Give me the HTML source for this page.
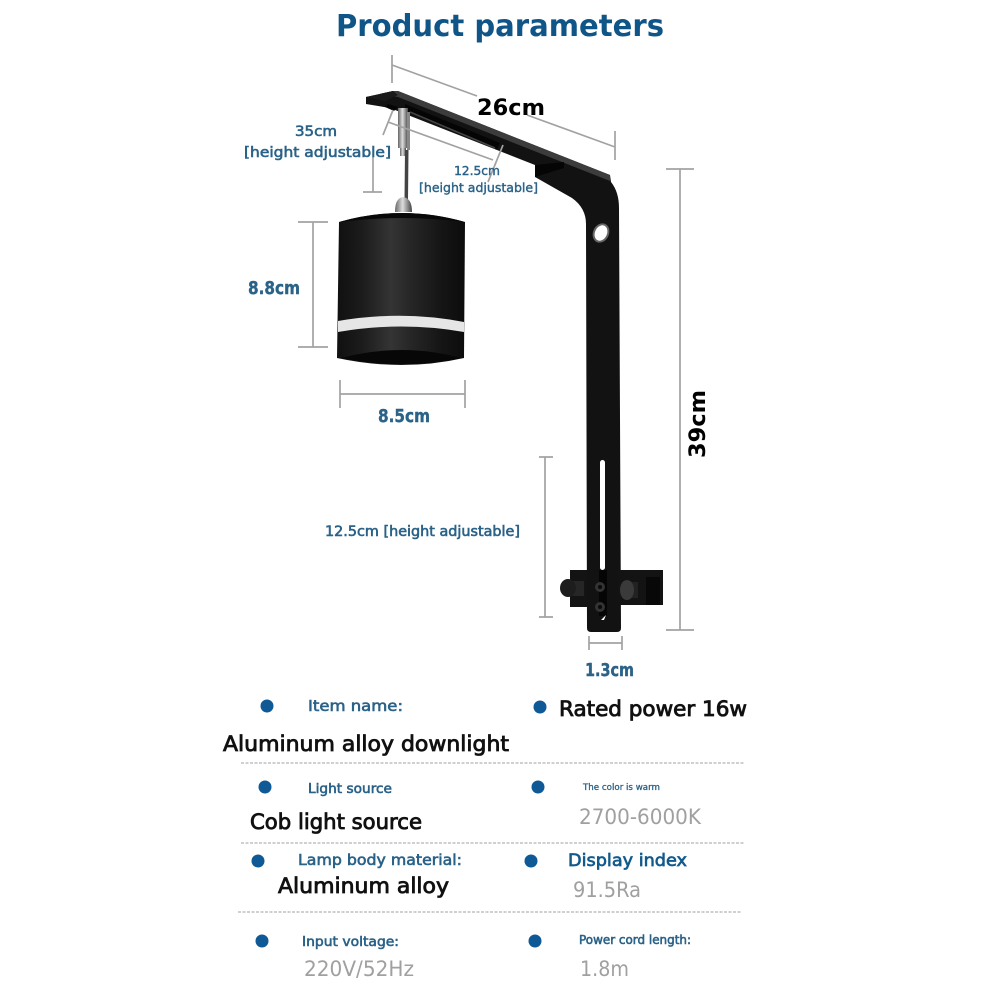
<!DOCTYPE html>
<html><head><meta charset="utf-8"><style>
html,body{margin:0;padding:0;background:#fff}
svg{display:block}
text{font-family:"DejaVu Sans","Liberation Sans",sans-serif}
.b{fill:#2a6288;font-weight:bold}
.s{fill:#2a6288;stroke:#2a6288;stroke-width:.6}
.h{fill:#125a8c;stroke:#125a8c;stroke-width:.7}
.k{fill:#111;stroke:#111;stroke-width:.85}
.g{fill:#a0a0a0}
.d{stroke:#a2a2a2;stroke-width:1.7;fill:none}
.r{stroke:#a0a0a0;stroke-width:1;stroke-dasharray:3 1.5;fill:none}
</style></head><body>
<svg width="987" height="987" viewBox="0 0 987 987" xmlns="http://www.w3.org/2000/svg">
<defs>
<linearGradient id="cyl" x1="0" x2="1" y1="0" y2="0">
<stop offset="0" stop-color="#101010"/><stop offset=".2" stop-color="#1c1c1c"/><stop offset=".42" stop-color="#343434"/><stop offset=".58" stop-color="#262626"/><stop offset=".8" stop-color="#161616"/><stop offset="1" stop-color="#0c0c0c"/>
</linearGradient>
<linearGradient id="met" x1="0" x2="1" y1="0" y2="0">
<stop offset="0" stop-color="#666"/><stop offset=".45" stop-color="#ddd"/><stop offset="1" stop-color="#444"/>
</linearGradient>
</defs>

<text x="336" y="36" font-size="30.5" style="fill:#0f5587;font-weight:bold" textLength="328" lengthAdjust="spacingAndGlyphs">Product parameters</text>

<!-- top dimension lines -->
<path class="d" d="M392 55V83M392 65L477 96M527 115L615 147M615 131V160"/>

<!-- bracket -->
<path d="M366 97L393 91H398L610 175L611 182Q619 192 619 208L621 628Q621 632 617 632H591Q587 632 587 628L586 224Q586 208 572 198L535 177V165L390 108L366 104Z" fill="#121212"/>
<path d="M398 91L610 175V181L398 97L380 94L393 91Z" fill="#3c3c3c"/>
<path d="M366 97L393 91L398 95L385 101Z" fill="#1a1a1a"/>
<path d="M535 165L564 162V168L535 177Z" fill="#050505"/>
<path d="M405 104L500 143L497 149L405 111Z" fill="#050505"/>
<path d="M410 112L495 148" stroke="#444" stroke-width="1.500"/>
<path d="M388 104L398 107L394 111L385 107Z" fill="#050505"/>
<ellipse cx="601" cy="233" rx="8" ry="10" transform="rotate(25 601 233)" fill="#666"/>
<ellipse cx="601" cy="233" rx="6" ry="8" transform="rotate(25 601 233)" fill="#fff"/>
<!-- bottom clamp -->
<rect x="600" y="460" width="5" height="110" rx="2.500" fill="#fff"/>
<path d="M570 570H587V607H570ZM618 570H663V605H618Z" fill="#131313"/>
<rect x="646" y="577" width="14" height="28" fill="#080808"/>
<rect x="599" y="570" width="8" height="46" fill="#050505"/>
<path d="M601 620L606 615L604 620Z" fill="#fff"/>
<circle cx="600" cy="587" r="5" fill="#333"/><circle cx="600" cy="607" r="5" fill="#333"/>
<circle cx="600" cy="587" r="2" fill="#0a0a0a"/><circle cx="600" cy="607" r="2" fill="#0a0a0a"/>
<rect x="568" y="581" width="16" height="15" fill="#262626"/>
<ellipse cx="568" cy="588" rx="8" ry="9" fill="#1d1d1d"/>
<rect x="622" y="582" width="16" height="16" fill="#222"/>
<ellipse cx="627" cy="590" rx="7" ry="10" fill="#3a3a3a"/>

<!-- hanger -->
<rect x="398" y="108" width="10" height="40" fill="url(#met)"/>
<rect x="400" y="148" width="6" height="8" fill="url(#met)"/>
<path d="M407 112H410V150H407Z" fill="#888"/>
<path d="M405 150H408.500L408 200H404.500Z" fill="#444"/>
<path d="M395 212Q395 198 403 197Q412 198 412 212Z" fill="url(#met)"/>

<!-- cylinder -->
<path d="M339 222Q402 204 465 222L464 358Q402 372 337 358Z" fill="url(#cyl)"/>
<path d="M339 222Q402 204 465 222Q402 214 339 222Z" fill="#080808"/>
<path d="M338 321Q402 310 464 322V332Q402 321 338 332Z" fill="#e6e6e6"/>
<path d="M341 358Q402 342 461 358Q402 371 341 358Z" fill="#070707"/>

<!-- dimension lines -->
<path class="d" d="M393 110L383 135M388 122L493 160M503 145L488 182"/>
<path class="d" d="M373 157V192M363 192H382"/>
<path class="d" d="M298 222H328M313 222V347M298 347H328"/>
<path class="d" d="M340 380V408M340 394H465M465 380V408"/>
<path class="d" d="M666 169H694M680 169V630M666 630H694"/>
<path class="d" d="M539 457H553M545 457V617M539 617H553"/>
<path class="d" d="M589 636V650M589 643H622M622 636V650"/>

<!-- dimension labels -->
<text x="477" y="115" font-size="22" fill="#000" font-weight="bold" textLength="68" lengthAdjust="spacingAndGlyphs">26cm</text>
<text x="295" y="136" font-size="14" class="s" textLength="42" lengthAdjust="spacingAndGlyphs">35cm</text>
<text x="244" y="157" font-size="14" class="s" textLength="147" lengthAdjust="spacingAndGlyphs">[height adjustable]</text>
<text x="454" y="175" font-size="12" class="s" style="stroke-width:.4" textLength="46" lengthAdjust="spacingAndGlyphs">12.5cm</text>
<text x="419" y="192" font-size="12" class="s" style="stroke-width:.4" textLength="119" lengthAdjust="spacingAndGlyphs">[height adjustable]</text>
<text x="248" y="294" font-size="18" class="b" style="stroke:#2a6288;stroke-width:.4" textLength="52" lengthAdjust="spacingAndGlyphs">8.8cm</text>
<text x="378" y="422" font-size="18" class="b" style="stroke:#2a6288;stroke-width:.4" textLength="52" lengthAdjust="spacingAndGlyphs">8.5cm</text>
<text x="325" y="536" font-size="14" class="s" textLength="195" lengthAdjust="spacingAndGlyphs">12.5cm [height adjustable]</text>
<text x="585" y="676" font-size="18" class="b" style="stroke:#2a6288;stroke-width:.4" textLength="49" lengthAdjust="spacingAndGlyphs">1.3cm</text>
<text transform="translate(705 458) rotate(-90)" font-size="22" fill="#000" font-weight="bold" textLength="68" lengthAdjust="spacingAndGlyphs">39cm</text>

<!-- bullets -->
<g fill="#0f5a96">
<circle cx="267" cy="706" r="6.500"/><circle cx="540" cy="707" r="6.500"/>
<circle cx="265" cy="787" r="6.500"/><circle cx="538" cy="787" r="6.500"/>
<circle cx="258" cy="861" r="6.500"/><circle cx="531" cy="861" r="6.500"/>
<circle cx="262" cy="941" r="6.500"/><circle cx="535" cy="941" r="6.500"/>
</g>

<!-- table text -->
<text x="308" y="711" font-size="15" class="s" textLength="95" lengthAdjust="spacingAndGlyphs">Item name:</text>
<text x="559" y="716" font-size="21" class="k" textLength="188" lengthAdjust="spacingAndGlyphs">Rated power 16w</text>
<text x="223" y="751" font-size="21" class="k" textLength="286" lengthAdjust="spacingAndGlyphs">Aluminum alloy downlight</text>
<path class="r" d="M241 763H744"/>
<text x="308" y="793" font-size="13.500" class="s" textLength="84" lengthAdjust="spacingAndGlyphs">Light source</text>
<text x="583" y="790" font-size="9" class="s" style="stroke-width:.3" textLength="77" lengthAdjust="spacingAndGlyphs">The color is warm</text>
<text x="250" y="829" font-size="21" class="k" textLength="172" lengthAdjust="spacingAndGlyphs">Cob light source</text>
<text x="579" y="824" font-size="21" class="g" textLength="122" lengthAdjust="spacingAndGlyphs">2700-6000K</text>
<path class="r" d="M241 843H745"/>
<text x="298" y="865" font-size="15" class="s" textLength="164" lengthAdjust="spacingAndGlyphs">Lamp body material:</text>
<text x="568" y="866" font-size="17" class="h" textLength="119" lengthAdjust="spacingAndGlyphs">Display index</text>
<text x="278" y="893" font-size="21" class="k" textLength="171" lengthAdjust="spacingAndGlyphs">Aluminum alloy</text>
<text x="573" y="897" font-size="21" class="g" textLength="68" lengthAdjust="spacingAndGlyphs">91.5Ra</text>
<path class="r" d="M238 912H742"/>
<text x="302" y="946" font-size="13.500" class="s" textLength="97" lengthAdjust="spacingAndGlyphs">Input voltage:</text>
<text x="579" y="944" font-size="12.500" class="s" textLength="112" lengthAdjust="spacingAndGlyphs">Power cord length:</text>
<text x="304" y="976" font-size="21" class="g" textLength="110" lengthAdjust="spacingAndGlyphs">220V/52Hz</text>
<text x="580" y="976" font-size="21" class="g" textLength="49" lengthAdjust="spacingAndGlyphs">1.8m</text>
</svg>
</body></html>
